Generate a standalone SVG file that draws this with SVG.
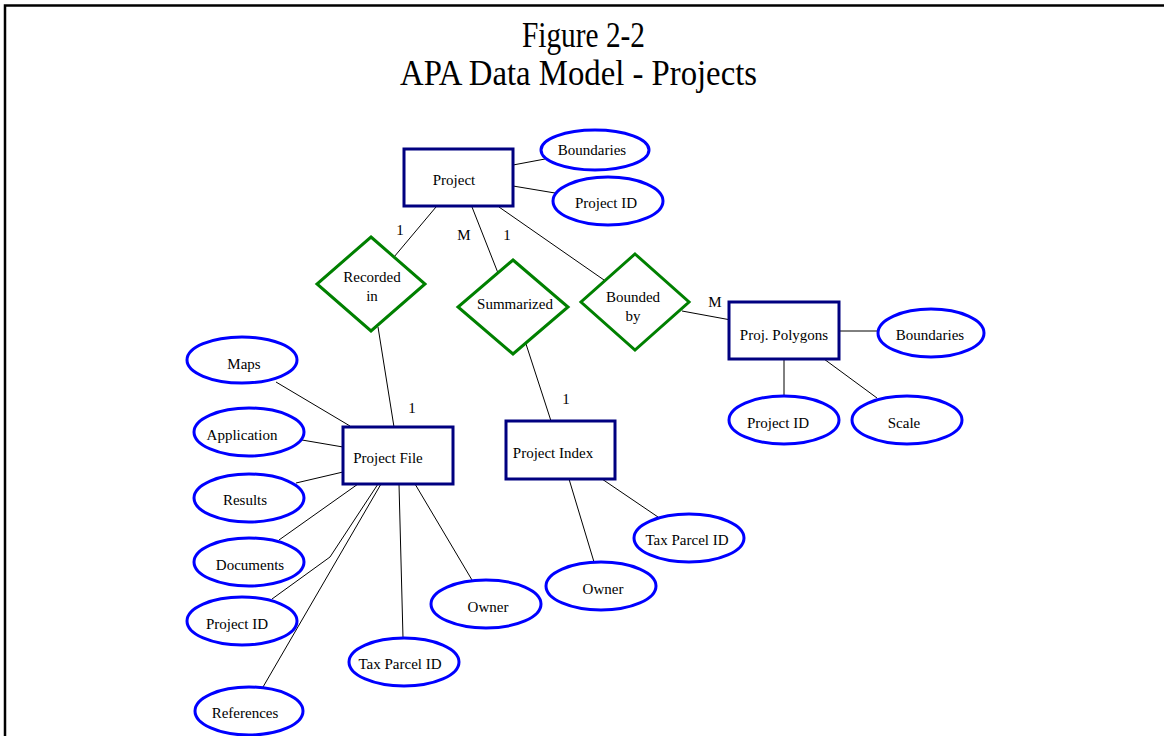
<svg xmlns="http://www.w3.org/2000/svg" width="1164" height="736" viewBox="0 0 1164 736" font-family="'Liberation Serif', 'DejaVu Serif', serif">
  <style>
    .entity { fill: #ffffff; stroke: #000080; stroke-width: 3; }
    .attr { fill: #ffffff; stroke: #0000ff; stroke-width: 3; }
    .rel { fill: #ffffff; stroke: #008000; stroke-width: 3; }
    .conn { fill: none; stroke: #000000; stroke-width: 1; }
    text { font-family: 'Liberation Serif', 'DejaVu Serif', serif; fill: #000000; }
    .lbl { font-size: 15px; text-anchor: middle; }
    .card { font-size: 15px; text-anchor: middle; }
    .title { font-size: 35px; }
  </style>

  <rect x="0" y="0" width="1164" height="736" fill="#ffffff"/>
  <!-- frame (open on the right and bottom) -->
  <path d="M 5 740 L 5 5.5 L 1170 5.5" fill="none" stroke="#000000" stroke-width="2.5"/>

  <g id="title">
    <text class="title" x="522" y="47" textLength="123" lengthAdjust="spacingAndGlyphs">Figure 2-2</text>
    <text class="title" x="400" y="85" textLength="357" lengthAdjust="spacingAndGlyphs">APA Data Model - Projects</text>
  </g>

  <!-- connectors -->
  <g id="connectors">
    <line class="conn" x1="513" y1="165" x2="545" y2="159"/>
    <line class="conn" x1="513" y1="186" x2="555" y2="193"/>
    <line class="conn" x1="436" y1="207" x2="394" y2="257"/>
    <line class="conn" x1="472" y1="207" x2="498" y2="273"/>
    <line class="conn" x1="499" y1="207" x2="604" y2="280"/>
    <line class="conn" x1="682" y1="311" x2="731" y2="320"/>
    <line class="conn" x1="839" y1="331" x2="878" y2="331"/>
    <line class="conn" x1="784" y1="359" x2="784" y2="396"/>
    <line class="conn" x1="824" y1="359" x2="877" y2="398"/>
    <line class="conn" x1="378" y1="327" x2="394" y2="427"/>
    <line class="conn" x1="526" y1="344" x2="551" y2="421"/>
    <line class="conn" x1="276" y1="382" x2="350" y2="426"/>
    <line class="conn" x1="302" y1="440" x2="343" y2="447"/>
    <line class="conn" x1="296" y1="483" x2="343" y2="472"/>
    <line class="conn" x1="279" y1="540" x2="358" y2="484"/>
    <polyline class="conn" points="272,599 330,557 378,484"/>
    <line class="conn" x1="381" y1="484" x2="263" y2="687"/>
    <line class="conn" x1="399" y1="484" x2="403" y2="638"/>
    <line class="conn" x1="415" y1="484" x2="472" y2="580"/>
    <line class="conn" x1="569" y1="479" x2="594" y2="562"/>
    <line class="conn" x1="602" y1="479" x2="658" y2="517"/>
  </g>

  <!-- cardinalities -->
  <g id="cardinalities">
    <text class="card" x="400" y="235">1</text>
    <text class="card" x="464" y="240">M</text>
    <text class="card" x="507" y="240">1</text>
    <text class="card" x="715" y="307">M</text>
    <text class="card" x="412" y="413">1</text>
    <text class="card" x="566" y="404">1</text>
  </g>

  <!-- entities -->
  <g id="project">
    <rect class="entity" x="404" y="149" width="109" height="57"/>
    <text class="lbl" x="454" y="185">Project</text>
  </g>
  <g id="proj-polygons">
    <rect class="entity" x="729" y="302" width="110" height="57"/>
    <text class="lbl" x="784" y="340">Proj. Polygons</text>
  </g>
  <g id="project-file">
    <rect class="entity" x="343" y="427" width="110" height="57"/>
    <text class="lbl" x="388" y="463">Project File</text>
  </g>
  <g id="project-index">
    <rect class="entity" x="506" y="421" width="109" height="58"/>
    <text class="lbl" x="553" y="458">Project Index</text>
  </g>

  <!-- relationships -->
  <g id="recorded-in">
    <polygon class="rel" points="371,237 425,284 371,331 317,284"/>
    <text class="lbl" x="372" y="282">Recorded</text>
    <text class="lbl" x="372" y="301">in</text>
  </g>
  <g id="summarized">
    <polygon class="rel" points="513,260 568,307 513,354 458,307"/>
    <text class="lbl" x="515" y="309">Summarized</text>
  </g>
  <g id="bounded-by">
    <polygon class="rel" points="635,254 689,302 635,350 581,302"/>
    <text class="lbl" x="633" y="302">Bounded</text>
    <text class="lbl" x="633" y="321">by</text>
  </g>

  <!-- attributes -->
  <g id="attr-project-boundaries">
    <ellipse class="attr" cx="595" cy="150" rx="54" ry="20"/>
    <text class="lbl" x="592" y="155">Boundaries</text>
  </g>
  <g id="attr-project-id">
    <ellipse class="attr" cx="608" cy="201" rx="55" ry="24"/>
    <text class="lbl" x="606" y="208">Project ID</text>
  </g>
  <g id="attr-poly-boundaries">
    <ellipse class="attr" cx="931" cy="333" rx="53" ry="24"/>
    <text class="lbl" x="930" y="340">Boundaries</text>
  </g>
  <g id="attr-poly-project-id">
    <ellipse class="attr" cx="784" cy="420" rx="55" ry="24"/>
    <text class="lbl" x="778" y="428">Project ID</text>
  </g>
  <g id="attr-poly-scale">
    <ellipse class="attr" cx="907" cy="420" rx="55" ry="24"/>
    <text class="lbl" x="904" y="428">Scale</text>
  </g>
  <g id="attr-maps">
    <ellipse class="attr" cx="242" cy="360" rx="55" ry="23"/>
    <text class="lbl" x="244" y="369">Maps</text>
  </g>
  <g id="attr-application">
    <ellipse class="attr" cx="249" cy="432" rx="55" ry="24"/>
    <text class="lbl" x="242" y="440">Application</text>
  </g>
  <g id="attr-results">
    <ellipse class="attr" cx="249" cy="498" rx="55" ry="24"/>
    <text class="lbl" x="245" y="505">Results</text>
  </g>
  <g id="attr-documents">
    <ellipse class="attr" cx="249" cy="562" rx="55" ry="24"/>
    <text class="lbl" x="250" y="570">Documents</text>
  </g>
  <g id="attr-file-project-id">
    <ellipse class="attr" cx="242" cy="621" rx="55" ry="24"/>
    <text class="lbl" x="237" y="629">Project ID</text>
  </g>
  <g id="attr-file-tax-parcel">
    <ellipse class="attr" cx="404" cy="662" rx="55" ry="24"/>
    <text class="lbl" x="400" y="669">Tax Parcel ID</text>
  </g>
  <g id="attr-references">
    <ellipse class="attr" cx="249" cy="711" rx="54" ry="24"/>
    <text class="lbl" x="245" y="718">References</text>
  </g>
  <g id="attr-file-owner">
    <ellipse class="attr" cx="486" cy="604" rx="55" ry="24"/>
    <text class="lbl" x="488" y="612">Owner</text>
  </g>
  <g id="attr-index-owner">
    <ellipse class="attr" cx="601" cy="586" rx="55" ry="24"/>
    <text class="lbl" x="603" y="594">Owner</text>
  </g>
  <g id="attr-index-tax-parcel">
    <ellipse class="attr" cx="689" cy="538" rx="55" ry="24"/>
    <text class="lbl" x="687" y="545">Tax Parcel ID</text>
  </g>
</svg>
